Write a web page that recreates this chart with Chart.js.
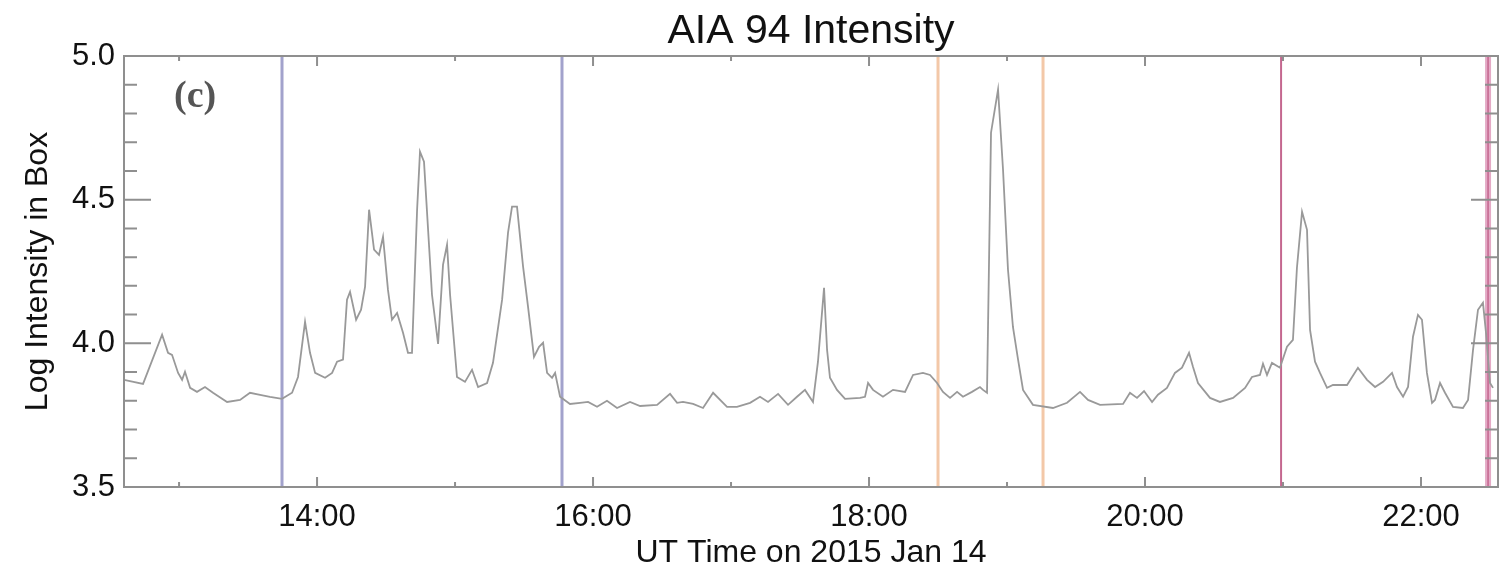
<!DOCTYPE html>
<html lang="en">
<head>
  <meta charset="UTF-8" />
  <title>AIA 94 Intensity</title>
  <script src="https://cdn.jsdelivr.net/npm/chart.js"></script>
  <style>
    body { margin: 0; background: #fff; }
    canvas { display: block; }
  </style>
</head>
<body>
  <canvas id="aiaChart" width="1507" height="572"></canvas>

  <script>
    // time in decimal hours (UT, 2015 Jan 14)
    const timeHours = [
      12.601, 12.739, 12.877, 12.920, 12.949, 12.993, 13.022, 13.043, 13.080, 13.130,
      13.188, 13.246, 13.348, 13.442, 13.514, 13.587, 13.659, 13.746, 13.819, 13.862,
      13.913, 13.949, 13.986, 14.058, 14.109, 14.145, 14.188, 14.217, 14.239, 14.283,
      14.319, 14.348, 14.377, 14.413, 14.449, 14.478, 14.514, 14.543, 14.580, 14.623,
      14.659, 14.688, 14.725, 14.746, 14.775, 14.833, 14.877, 14.913, 14.942, 14.964,
      15.014, 15.072, 15.123, 15.167, 15.232, 15.275, 15.341, 15.384, 15.413, 15.449,
      15.493, 15.529, 15.572, 15.609, 15.638, 15.667, 15.703, 15.725, 15.761, 15.833,
      15.906, 15.964, 16.029, 16.101, 16.174, 16.268, 16.341, 16.464, 16.558, 16.609,
      16.652, 16.725, 16.797, 16.870, 16.971, 17.043, 17.138, 17.210, 17.268, 17.341,
      17.413, 17.478, 17.536, 17.594, 17.630, 17.674, 17.696, 17.717, 17.768, 17.826,
      17.935, 17.971, 17.993, 18.029, 18.101, 18.174, 18.261, 18.319, 18.391, 18.442,
      18.493, 18.536, 18.587, 18.638, 18.681, 18.746, 18.804, 18.826, 18.855, 18.884,
      18.935, 18.971, 19.007, 19.043, 19.080, 19.116, 19.188, 19.333, 19.435, 19.529,
      19.587, 19.674, 19.841, 19.891, 19.942, 19.993, 20.051, 20.094, 20.159, 20.217,
      20.268, 20.319, 20.348, 20.384, 20.471, 20.543, 20.638, 20.725, 20.775, 20.833,
      20.855, 20.884, 20.920, 20.978, 21.029, 21.072, 21.101, 21.138, 21.174, 21.196,
      21.232, 21.268, 21.319, 21.362, 21.464, 21.543, 21.609, 21.667, 21.725, 21.790,
      21.826, 21.870, 21.906, 21.942, 21.978, 22.007, 22.043, 22.080, 22.101, 22.138,
      22.174, 22.232, 22.304, 22.341, 22.377, 22.413, 22.449, 22.471, 22.500, 22.522
    ];

    const logIntensity = [
      3.873, 3.859, 4.030, 3.967, 3.960, 3.897, 3.873, 3.901, 3.845, 3.831,
      3.848, 3.828, 3.796, 3.803, 3.828, 3.821, 3.814, 3.807, 3.828, 3.883,
      4.075, 3.967, 3.897, 3.880, 3.897, 3.936, 3.943, 4.152, 4.179, 4.082,
      4.117, 4.197, 4.465, 4.326, 4.308, 4.371, 4.186, 4.082, 4.106, 4.037,
      3.967, 3.967, 4.465, 4.667, 4.632, 4.169, 3.998, 4.274, 4.343, 4.169,
      3.883, 3.866, 3.908, 3.848, 3.862, 3.932, 4.152, 4.385, 4.476, 4.476,
      4.267, 4.127, 3.953, 3.988, 4.002, 3.897, 3.880, 3.897, 3.814, 3.789,
      3.793, 3.796, 3.779, 3.800, 3.775, 3.796, 3.782, 3.786, 3.824, 3.793,
      3.796, 3.789, 3.775, 3.828, 3.779, 3.779, 3.793, 3.814, 3.796, 3.824,
      3.786, 3.814, 3.838, 3.796, 3.936, 4.193, 3.977, 3.880, 3.838, 3.807,
      3.810, 3.814, 3.862, 3.838, 3.814, 3.838, 3.831, 3.890, 3.897, 3.890,
      3.862, 3.831, 3.810, 3.831, 3.814, 3.831, 3.848, 3.838, 3.828, 4.733,
      4.883, 4.605, 4.256, 4.057, 3.943, 3.838, 3.786, 3.775, 3.793, 3.831,
      3.803, 3.786, 3.789, 3.828, 3.810, 3.834, 3.796, 3.821, 3.845, 3.897,
      3.915, 3.967, 3.918, 3.862, 3.810, 3.796, 3.810, 3.845, 3.883, 3.890,
      3.929, 3.890, 3.932, 3.915, 3.988, 4.012, 4.263, 4.458, 4.395, 4.047,
      3.936, 3.897, 3.845, 3.855, 3.855, 3.915, 3.873, 3.848, 3.866, 3.897,
      3.848, 3.814, 3.848, 4.023, 4.099, 4.082, 3.897, 3.793, 3.803, 3.862,
      3.828, 3.779, 3.775, 3.803, 3.977, 4.117, 4.141, 4.037, 3.862, 3.845
    ];

    // event markers (vertical lines), decimal hours
    const markerTimes = [13.746, 15.775, 18.500, 19.261, 20.986, 22.486];

    const xRange = [12.601, 22.558];
    const yRange = [3.5, 5.0];
    const xTickHours = [14, 16, 18, 20, 22];
    const xTickLabels = ['14:00', '16:00', '18:00', '20:00', '22:00'];
    const xMinorHours = [13, 15, 17, 19, 21];
    const yTickValues = [3.5, 4.0, 4.5, 5.0];
    const yTickLabels = ['3.5', '4.0', '4.5', '5.0'];
    const yMinorValues = [3.6, 3.7, 3.8, 3.9, 4.1, 4.2, 4.3, 4.4, 4.6, 4.7, 4.8, 4.9];

    const FONT = '"Liberation Sans", Arial, Helvetica, sans-serif';
    const markerColors = ['#a2a2cc', '#a2a2cc', '#f3c8a8', '#f3c8a8', '#c4678f', '#e4aac6'];
    const markerWidths = [3, 3, 3, 3, 2, 6];

    Chart.defaults.font.family = FONT;
    Chart.defaults.color = '#111';

    const markerSets = markerTimes.map((t, i) => ({
      data: [{ x: t, y: yRange[0] }, { x: t, y: yRange[1] }],
      borderColor: markerColors[i],
      borderWidth: markerWidths[i],
      pointRadius: 0,
      order: 2
    }));
    // darker core of the last marker
    markerSets.push({
      data: [{ x: markerTimes[5], y: yRange[0] }, { x: markerTimes[5], y: yRange[1] }],
      borderColor: '#c4678f',
      borderWidth: 1.5,
      pointRadius: 0,
      order: 1
    });

    // box frame with inward ticks on all four sides, title over the plot box, panel tag
    const frame = {
      id: 'frame',
      afterDatasetsDraw(chart) {
        const { ctx, chartArea: a, scales: { x, y } } = chart;
        ctx.save();
        ctx.strokeStyle = '#8f8f8f';
        ctx.lineWidth = 2;
        ctx.strokeRect(a.left, a.top, a.right - a.left, a.bottom - a.top);
        ctx.beginPath();
        const xt = (h, len) => {
          const px = x.getPixelForValue(h);
          ctx.moveTo(px, a.bottom); ctx.lineTo(px, a.bottom - len);
          ctx.moveTo(px, a.top); ctx.lineTo(px, a.top + len);
        };
        const yt = (v, len) => {
          const py = y.getPixelForValue(v);
          ctx.moveTo(a.left, py); ctx.lineTo(a.left + len, py);
          ctx.moveTo(a.right, py); ctx.lineTo(a.right - len, py);
        };
        xTickHours.forEach(h => xt(h, 10));
        xMinorHours.forEach(h => xt(h, 5));
        yTickValues.forEach(v => yt(v, 27));
        yMinorValues.forEach(v => yt(v, 13));
        ctx.stroke();

        ctx.fillStyle = '#111';
        ctx.font = '41px ' + FONT;
        ctx.textAlign = 'center';
        ctx.textBaseline = 'middle';
        ctx.fillText('AIA 94 Intensity', (a.left + a.right) / 2, 32);

        ctx.fillStyle = '#555';
        ctx.font = 'bold 38px "Liberation Serif", "Times New Roman", serif';
        ctx.textAlign = 'left';
        ctx.fillText('(c)', a.left + 50, a.top + 41);
        ctx.restore();
      }
    };

    new Chart(document.getElementById('aiaChart'), {
      type: 'line',
      data: {
        datasets: [{
          label: 'AIA 94',
          data: timeHours.map((t, i) => ({ x: t, y: logIntensity[i] })),
          borderColor: '#999',
          borderWidth: 1.8,
          pointRadius: 0,
          tension: 0,
          order: 0
        }, ...markerSets]
      },
      options: {
        responsive: false,
        animation: false,
        devicePixelRatio: 1,
        layout: { padding: { left: 0, right: 9, top: 56, bottom: 0 } },
        plugins: {
          legend: { display: false },
          tooltip: { enabled: false },
          title: { display: false }
        },
        scales: {
          x: {
            type: 'linear',
            min: xRange[0],
            max: xRange[1],
            grid: { display: false, drawTicks: false },
            border: { display: false },
            afterBuildTicks: s => { s.ticks = xTickHours.map(v => ({ value: v })); },
            afterFit: s => { s.height = 85; },
            ticks: {
              font: { size: 31 },
              color: '#111',
              padding: 12,
              maxRotation: 0,
              callback: v => xTickLabels[xTickHours.indexOf(v)]
            },
            title: {
              display: true,
              text: 'UT Time on 2015 Jan 14',
              color: '#111',
              font: { size: 32 },
              padding: { top: 0, bottom: 0 }
            }
          },
          y: {
            min: yRange[0],
            max: yRange[1],
            grid: { display: false, drawTicks: false },
            border: { display: false },
            afterBuildTicks: s => { s.ticks = yTickValues.map(v => ({ value: v })); },
            afterFit: s => { s.width = 124; },
            ticks: {
              font: { size: 31 },
              color: '#111',
              padding: 9,
              callback: v => yTickLabels[yTickValues.indexOf(v)]
            },
            title: {
              display: true,
              text: 'Log Intensity in Box',
              color: '#111',
              font: { size: 32 },
              padding: { top: 19, bottom: 0 }
            }
          }
        }
      },
      plugins: [frame]
    });
  </script>
</body>
</html>
